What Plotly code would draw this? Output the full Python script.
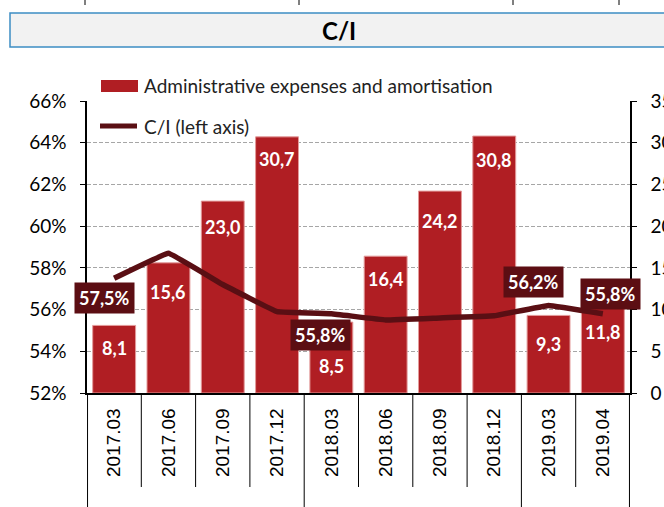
import plotly.graph_objects as go

categories = ["2017.03", "2017.06", "2017.09", "2017.12", "2018.03",
              "2018.06", "2018.09", "2018.12", "2019.03", "2019.04"]
admin_expenses = [8.1, 15.6, 23.0, 30.7, 8.5, 16.4, 24.2, 30.8, 9.3, 11.8]
ci_ratio = [57.5, 58.7, 57.2, 55.9, 55.8, 55.5, 55.6, 55.7, 56.2, 55.8]
ci_labelled = {0: 57.5, 4: 55.8, 8: 56.2, 9: 55.8}

left_ticks = [52, 54, 56, 58, 60, 62, 64, 66]
left_ticktext = ["52%", "54%", "56%", "58%", "60%", "62%", "64%", "66%"]
right_ticks = [0, 5, 10, 15, 20, 25, 30, 35]

BAR = "#b01e23"
LINE = "#5a0f14"
BOX = "#5c0e13"
CAL = "Lato"
ARIAL = "Liberation Sans"

W, H = 664, 507
L, R, T, B = 87, 34, 101, 114
PW, PH = W - L - R, H - T - B


def px(x):
    return (x - L) / PW


def py(y):
    return (H - B - y) / PH


fig = go.Figure()
fig.add_trace(go.Bar(
    x=categories, y=admin_expenses, yaxis="y",
    marker=dict(color=BAR, line=dict(color="#e39a9a", width=1)),
    width=0.79, showlegend=False, hoverinfo="skip",
))
fig.add_trace(go.Scatter(
    x=categories, y=ci_ratio, yaxis="y2", mode="lines",
    line=dict(color=LINE, width=5.5, shape="spline", smoothing=0.15),
    showlegend=False, hoverinfo="skip",
))

annotations = []
# bar value labels
bar_dy = [-23, -29, -26, -22, -44, -23, -30, -24, -29, -37]
for i, v in enumerate(admin_expenses):
    annotations.append(dict(
        x=i, y=v, xref="x", yref="y", xanchor="center", yanchor="middle",
        text="<b>" + f"{v:.1f}".replace(".", ",") + "</b>", showarrow=False,
        yshift=bar_dy[i], font=dict(family=CAL, size=18, color="white"),
    ))
# C/I labels
ci_shift = {0: (-10, -20), 4: (-11, -21), 8: (-15, 23), 9: (8, 20)}
for i, v in ci_labelled.items():
    dx, dy = ci_shift[i]
    annotations.append(dict(
        x=i, y=ci_ratio[i], xref="x", yref="y2", xanchor="center", yanchor="middle",
        text="<b>" + f"{v:.1f}%".replace(".", ",") + "</b>", showarrow=False,
        xshift=dx, yshift=dy, bgcolor=BOX, borderpad=4,
        font=dict(family=CAL, size=18, color="white"),
    ))
# title
annotations.append(dict(
    x=px(339), y=py(31), xref="paper", yref="paper", xanchor="center", yanchor="middle",
    text="<b>C/I</b>", showarrow=False, font=dict(family=CAL, size=24, color="black"),
))
# legend
annotations.append(dict(
    x=px(142), y=py(86), xref="paper", yref="paper", xanchor="left", yanchor="middle",
    text="Administrative expenses and amortisation", showarrow=False,
    font=dict(family=CAL, size=19, color="#222222"),
))
annotations.append(dict(
    x=px(142), y=py(126), xref="paper", yref="paper", xanchor="left", yanchor="middle",
    text="C/I (left axis)", showarrow=False,
    font=dict(family=CAL, size=19, color="#222222"),
))

shapes = [
    dict(type="rect", xref="paper", yref="paper", x0=px(10), x1=px(700),
         y0=py(47), y1=py(13), fillcolor="#f2f2f2",
         line=dict(color="#3c8dc4", width=1.5), layer="below"),
    dict(type="rect", xref="paper", yref="paper", x0=px(101), x1=px(138),
         y0=py(92), y1=py(80), fillcolor=BAR, line=dict(width=0)),
    dict(type="line", xref="paper", yref="paper", x0=px(100), x1=px(137),
         y0=py(126), y1=py(126), line=dict(color=LINE, width=5)),
]
for xt in [85, 299, 513, 619]:
    shapes.append(dict(type="line", xref="paper", yref="paper", x0=px(xt), x1=px(xt),
                       y0=py(0), y1=py(5), line=dict(color="black", width=1)))
for b in [0.5, 1.5, 2.5, 4.5, 5.5, 6.5, 8.5]:
    shapes.append(dict(type="line", xref="x", yref="paper", x0=b, x1=b,
                       y0=0, y1=py(487), line=dict(color="black", width=1)))
for b in [-0.49, 3.5, 7.5, 9.49]:
    shapes.append(dict(type="line", xref="x", yref="paper", x0=b, x1=b,
                       y0=0, y1=py(512), line=dict(color="black", width=1)))

fig.update_layout(
    width=W, height=H, margin=dict(l=L, r=R, t=T, b=B, autoexpand=False),
    paper_bgcolor="white", plot_bgcolor="white",
    separators=",.", bargap=0.21, showlegend=False,
    xaxis=dict(type="category", range=[-0.5, 9.5], tickangle=-90,
               tickfont=dict(family=ARIAL, size=19, color="black"),
               showline=True, linecolor="black", linewidth=1.5, ticks="",
               showgrid=False, ticklabelstandoff=6),
    yaxis=dict(range=[0, 35], side="right", tickvals=right_ticks,
               tickfont=dict(family=CAL, size=19, color="black"),
               showline=True, linecolor="black", linewidth=1.5,
               ticks="outside", ticklen=5, tickcolor="black",
               showgrid=True, gridcolor="#a6a6a6", griddash="4px,2px", gridwidth=1,
               zeroline=False, ticklabelstandoff=10),
    yaxis2=dict(range=[52, 66], overlaying="y", side="left",
                tickvals=left_ticks, ticktext=left_ticktext,
                tickfont=dict(family=CAL, size=19, color="black"),
                showline=True, linecolor="black", linewidth=1.5,
                ticks="outside", ticklen=5, tickcolor="black",
                showgrid=False, zeroline=False, ticklabelstandoff=10),
    annotations=annotations, shapes=shapes,
)

fig.write_html("out.html", config={"displayModeBar": False},
               post_script="document.body.style.margin='0';")
